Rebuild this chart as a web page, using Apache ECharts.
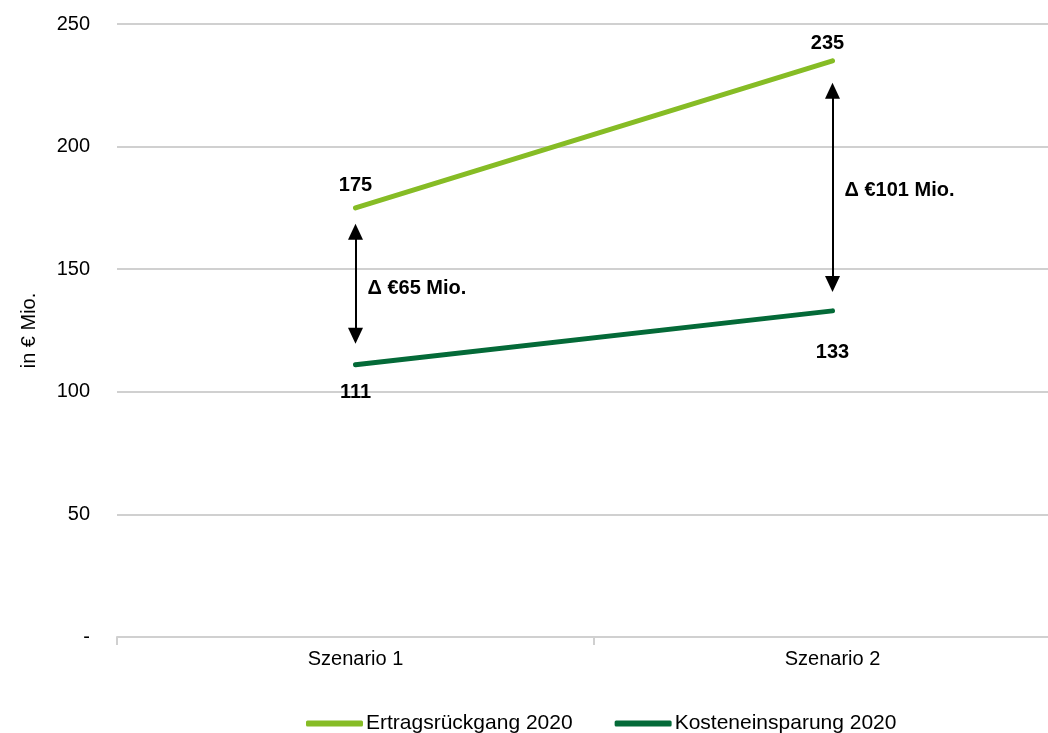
<!DOCTYPE html>
<html>
<head>
<meta charset="utf-8">
<script src="https://cdn.jsdelivr.net/npm/echarts@6/dist/echarts.min.js"></script>
<style>
html,body{margin:0;padding:0;background:#fff;}
#chart{width:1048px;height:733px;}
</style>
</head>
<body>
<div id="chart"></div>
<script>
const categories = ['Szenario 1', 'Szenario 2'];
const seriesNames = ['Ertragsrückgang 2020', 'Kosteneinsparung 2020'];
const ertrag = [175, 235];
const kosten = [111, 133];
const arrowTop = [165.3, 222.8];
const arrowBottom = [122.9, 144];
const deltaText = ['Δ €65 Mio.', 'Δ €101 Mio.'];
const deltaPos = [142, 182];
const yTicks = { min: 0, max: 250, interval: 50 };

const FONT = '"Liberation Sans", Arial, sans-serif';
const LIGHT = '#86bc25';
const DARK = '#046a38';

// label placement tweaks (styling only)
const ertragLabelStyle = [{ distance: 10.5, offset: [0, 0] }, { distance: 5, offset: [-5, 0] }];
const kostenLabelStyle = [{ distance: 16, offset: [0, 0] }, { distance: 30, offset: [0, 0] }];

const chart = echarts.init(document.getElementById('chart'));

const arrowLines = categories.map((c, i) => [
  { coord: [c, arrowTop[i]] },
  { coord: [c, arrowBottom[i]] }
]);
const deltaPoints = categories.map((c, i) => ({
  coord: [c, deltaPos[i]],
  value: deltaText[i],
  symbolSize: 0,
  label: {
    show: true, position: 'right', distance: 12,
    formatter: deltaText[i],
    fontFamily: FONT, fontSize: 20, fontWeight: 'bold', color: '#000'
  }
}));
const ertragData = ertrag.map((v, i) => ({ value: v, label: ertragLabelStyle[i] }));
const kostenData = kosten.map((v, i) => ({ value: v, label: kostenLabelStyle[i] }));

chart.setOption({
  animation: false,
  backgroundColor: '#fff',
  grid: { left: 117, right: -23, top: 24, bottom: 96, containLabel: false, outerBoundsMode: 'none' },
  legend: {
    left: 301, top: 708,
    itemWidth: 57, itemHeight: 6, itemGap: 42,
    icon: 'roundRect',
    textStyle: { fontFamily: FONT, fontSize: 21, color: '#000', padding: [0, 0, 0, -2] },
    data: seriesNames
  },
  xAxis: {
    type: 'category',
    data: categories,
    boundaryGap: true,
    axisLine: { lineStyle: { color: '#d0d0d0', width: 2 } },
    axisTick: { show: true, length: 8, lineStyle: { color: '#d0d0d0', width: 2 } },
    axisLabel: { fontFamily: FONT, fontSize: 20, color: '#000', margin: 12 }
  },
  yAxis: {
    type: 'value',
    min: yTicks.min, max: yTicks.max, interval: yTicks.interval,
    name: 'in € Mio.',
    nameLocation: 'middle',
    nameGap: 78,
    nameTextStyle: { fontFamily: FONT, fontSize: 20, color: '#000' },
    axisLine: { show: false },
    axisTick: { show: false },
    splitLine: { lineStyle: { color: '#d0d0d0', width: 2 } },
    axisLabel: {
      fontFamily: FONT, fontSize: 20, color: '#000', margin: 27,
      formatter: v => v === 0 ? '-' : String(v)
    }
  },
  series: [
    {
      name: seriesNames[0],
      type: 'line',
      data: ertragData,
      color: LIGHT,
      showSymbol: true,
      symbol: 'circle',
      symbolSize: 4,
      itemStyle: { color: LIGHT },
      lineStyle: { width: 5, color: LIGHT, cap: 'round' },
      label: {
        show: true, position: 'top',
        fontFamily: FONT, fontSize: 20, fontWeight: 'bold', color: '#000'
      },
      markLine: {
        silent: true,
        symbol: ['triangle', 'triangle'],
        symbolSize: [15, 16],
        lineStyle: { color: '#000', width: 2, type: 'solid' },
        label: { show: false },
        data: arrowLines
      },
      markPoint: {
        silent: true,
        symbol: 'rect',
        data: deltaPoints
      }
    },
    {
      name: seriesNames[1],
      type: 'line',
      data: kostenData,
      color: DARK,
      showSymbol: true,
      symbol: 'circle',
      symbolSize: 4,
      itemStyle: { color: DARK },
      lineStyle: { width: 5, color: DARK, cap: 'round' },
      label: {
        show: true, position: 'bottom',
        fontFamily: FONT, fontSize: 20, fontWeight: 'bold', color: '#000'
      }
    }
  ]
});
</script>
</body>
</html>
